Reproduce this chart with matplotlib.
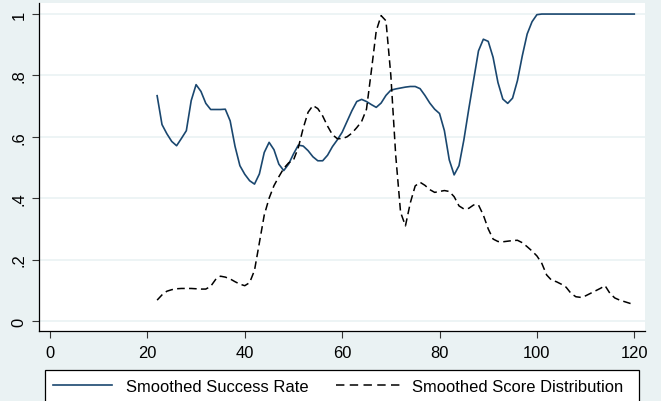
import numpy as np
import matplotlib
matplotlib.use("Agg")
import matplotlib.pyplot as plt
from matplotlib.lines import Line2D
from matplotlib.patches import Rectangle

plt.rcParams['font.family'] = ['Liberation Sans', 'DejaVu Sans']

score = list(range(22, 121))

success_rate = [
    0.734, 0.640, 0.610, 0.585, 0.571, 0.595, 0.620, 0.718, 0.770, 0.748,   # 22-31
    0.709, 0.689, 0.689, 0.689, 0.690, 0.652, 0.569, 0.506, 0.478, 0.457,   # 32-41
    0.446, 0.479, 0.549, 0.582, 0.558, 0.511, 0.490, 0.511, 0.544, 0.573,   # 42-51
    0.570, 0.555, 0.535, 0.522, 0.522, 0.540, 0.568, 0.590, 0.615, 0.650,   # 52-61
    0.685, 0.715, 0.722, 0.715, 0.705, 0.696, 0.710, 0.735, 0.752, 0.756,   # 62-71
    0.759, 0.762, 0.764, 0.764, 0.757, 0.735, 0.710, 0.690, 0.676, 0.620,   # 72-81
    0.525, 0.476, 0.506, 0.590, 0.690, 0.785, 0.880, 0.918, 0.911, 0.859,   # 82-91
    0.777, 0.723, 0.709, 0.726, 0.783, 0.864, 0.935, 0.975, 0.998, 1.000,   # 92-101
    1.000, 1.000, 1.000, 1.000, 1.000, 1.000, 1.000, 1.000, 1.000, 1.000,   # 102-111
    1.000, 1.000, 1.000, 1.000, 1.000, 1.000, 1.000, 1.000, 1.000,          # 112-120
]

score_dist = [
    0.068, 0.085, 0.097, 0.102, 0.105, 0.106, 0.106, 0.106, 0.105, 0.104,   # 22-31
    0.104, 0.113, 0.135, 0.146, 0.143, 0.137, 0.128, 0.120, 0.115, 0.125,   # 32-41
    0.165, 0.255, 0.345, 0.400, 0.441, 0.470, 0.497, 0.515, 0.524, 0.565,   # 42-51
    0.628, 0.680, 0.702, 0.692, 0.668, 0.635, 0.607, 0.594, 0.594, 0.600,   # 52-61
    0.612, 0.630, 0.650, 0.690, 0.815, 0.945, 0.995, 0.978, 0.800, 0.540,   # 62-71
    0.354, 0.310, 0.385, 0.440, 0.452, 0.442, 0.428, 0.419, 0.422, 0.425,   # 72-81
    0.422, 0.405, 0.375, 0.365, 0.367, 0.378, 0.378, 0.345, 0.300, 0.267,   # 82-91
    0.259, 0.258, 0.260, 0.262, 0.263, 0.255, 0.242, 0.228, 0.212, 0.188,   # 92-101
    0.150, 0.133, 0.128, 0.120, 0.110, 0.090, 0.079, 0.077, 0.082, 0.090,   # 102-111
    0.098, 0.106, 0.115, 0.090, 0.075, 0.068, 0.063, 0.058, 0.053,          # 112-120
]

x_ticks = [0, 20, 40, 60, 80, 100, 120]
y_ticks = [0, 0.2, 0.4, 0.6, 0.8, 1.0]
y_tick_labels = ["0", ".2", ".4", ".6", ".8", "1"]
labels = ["Smoothed Success Rate", "Smoothed Score Distribution"]

BG = "#EAF2F3"
NAVY = "#1A476F"
W, H = 661, 402
FS = 11.9

fig = plt.figure(figsize=(W / 100, H / 100), dpi=100, facecolor=BG)
ax = fig.add_axes([39 / W, 1 - 332 / H, (645 - 39) / W, (332 - 4) / H])
ax.set_facecolor("white")

ax.plot(score, success_rate, color=NAVY, lw=1.2, solid_joinstyle='round')
dl, = ax.plot(score, score_dist, color="black", lw=1.1)
dl.set_dashes([5.0, 2.8])

ax.set_xlim(-2.26, 122.2)
ax.set_ylim(-0.0326, 1.036)
ax.set_xticks(x_ticks)
ax.set_xticklabels([str(v) for v in x_ticks])
ax.set_yticks(y_ticks)
ax.set_yticklabels(y_tick_labels, rotation=90, va='center')
ax.grid(axis='y', color=BG, lw=1.2)
ax.set_axisbelow(True)
for s in ['top', 'right']:
    ax.spines[s].set_visible(False)
for s in ['left', 'bottom']:
    ax.spines[s].set_color("black")
    ax.spines[s].set_linewidth(0.9)
ax.tick_params(axis='both', length=5, width=0.8, color="#333333", labelsize=FS, labelcolor="black")
ax.tick_params(axis='x', pad=5)
ax.tick_params(axis='y', pad=4)

# legend box drawn in figure pixel coordinates
def fx(px):
    return px / W

def fy(py):
    return 1 - py / H

LEG_Y = 386.3
fig.patches.append(Rectangle((fx(45), fy(425)), fx(639) - fx(45), fy(371) - fy(425),
                             transform=fig.transFigure, facecolor="white",
                             edgecolor="black", lw=0.9, zorder=1))
fig.lines.append(Line2D([fx(52.5), fx(112)], [fy(LEG_Y), fy(LEG_Y)], transform=fig.transFigure,
                        color=NAVY, lw=1.2, zorder=2))
ll = Line2D([fx(336), fx(403)], [fy(LEG_Y), fy(LEG_Y)], transform=fig.transFigure,
            color="black", lw=1.1, zorder=2)
ll.set_dashes([5.5, 3.5])
fig.lines.append(ll)
fig.text(fx(126.5), fy(LEG_Y), labels[0], fontsize=FS, va='center_baseline', ha='left')
fig.text(fx(411.5), fy(LEG_Y), labels[1], fontsize=FS, va='center_baseline', ha='left')

fig.savefig("out.png", dpi=100, facecolor=BG)
